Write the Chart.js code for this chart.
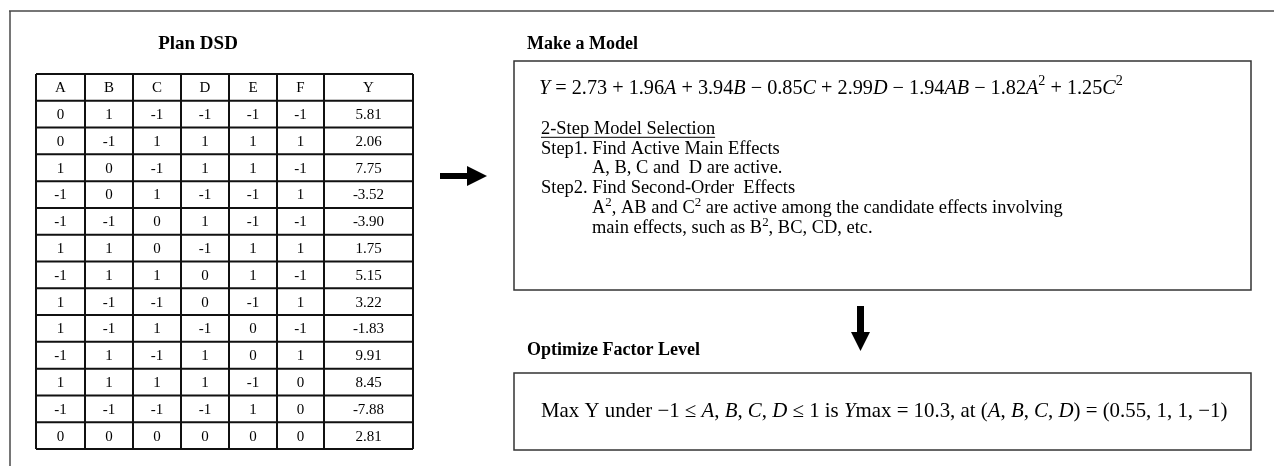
<!DOCTYPE html>
<html><head><meta charset="utf-8">
<script src="https://cdn.jsdelivr.net/npm/chart.js@4.4.1/dist/chart.umd.min.js"></script>
<style>html,body{margin:0;padding:0;background:#fff}#wrap{position:relative;width:1274px;height:466px}</style>
</head><body><div id="wrap"><canvas id="c"></canvas></div>
<script>
// ---- data ----
const headers = ['A','B','C','D','E','F','Y'];
const colA = [0,0,1,-1,-1,1,-1,1,1,-1,1,-1,0];
const colB = [1,-1,0,0,-1,1,1,-1,-1,1,1,-1,0];
const colC = [-1,1,-1,1,0,0,1,-1,1,-1,1,-1,0];
const colD = [-1,1,1,-1,1,-1,0,0,-1,1,1,-1,0];
const colE = [-1,1,1,-1,-1,1,1,-1,0,0,-1,1,0];
const colF = [-1,1,-1,1,-1,1,-1,1,-1,1,0,0,0];
const colY = [5.81,2.06,7.75,-3.52,-3.90,1.75,5.15,3.22,-1.83,9.91,8.45,-7.88,2.81];
const intercept = 2.73;
const modelTerms = ['A','B','C','D','AB','A^2','C^2'];
const modelCoefs = [1.96,3.94,-0.85,2.99,-1.94,-1.82,1.25];
const activeMain = ['A','B','C','D'];
const activeSecond = ['A^2','AB','C^2'];
const candidateEx = ['B^2','BC','CD'];
const optFactors = ['A','B','C','D'];
const optLevels = [0.55,1,1,-1];
const yMax = 10.3;

// ---- layout ----
const SERIF = '"Liberation Serif","Times New Roman",serif';
const tbl = {edges:[36,85,133,181,229,277,324,413], top:74, bottom:449};
const box1 = {l:514,t:61,r:1251,b:290};
const box2 = {l:514,t:373,r:1251,b:450};

function richMeasure(ctx, segs, size){
  let w=0;
  for(const s of segs){
    const fs = s.sup? size*0.7 : size;
    ctx.font = (s.it?'italic ':'')+(s.b?'bold ':'')+fs+'px '+SERIF;
    w += ctx.measureText(s.t).width;
  }
  return w;
}
function richDraw(ctx, segs, x, y, size, raise){
  let cx=x;
  ctx.textAlign='left'; ctx.textBaseline='middle';
  for(const s of segs){
    const fs = s.sup? size*0.7 : size;
    ctx.font = (s.it?'italic ':'')+(s.b?'bold ':'')+fs+'px '+SERIF;
    ctx.fillText(s.t, cx, y - (s.sup? size*(raise||0.36):0));
    cx += ctx.measureText(s.t).width;
  }
  return cx-x;
}
function fitSize(ctx, segs, target){
  const w = richMeasure(ctx, segs, 100);
  return 100*target/w;
}
function termSegs(term, italic){
  const [base, p] = term.split('^');
  const out=[{t:base,it:italic}];
  if(p) out.push({t:p,sup:true});
  return out;
}
function textTermSegs(list, sep){
  const out=[];
  list.forEach((t,i)=>{ if(i) out.push({t:sep[i-1]||', '}); out.push(...termSegs(t,false)); });
  return out;
}
const minus = v => v<0 ? '−'+Math.abs(v) : String(v);

const diagram = {
  id:'diagram',
  afterDraw(chart){
    const ctx = chart.ctx;
    const X = v=>chart.scales.x.getPixelForValue(v);
    const Y = v=>chart.scales.y.getPixelForValue(v);
    ctx.save();
    // outer frame (top & left)
    ctx.strokeStyle='#4a4a4a'; ctx.lineWidth=1.5;
    ctx.beginPath(); ctx.moveTo(X(9),Y(11)); ctx.lineTo(X(1274),Y(11));
    ctx.moveTo(X(10),Y(11)); ctx.lineTo(X(10),Y(466)); ctx.stroke();

    ctx.fillStyle='#000';
    // titles
    ctx.font='bold 19px '+SERIF; ctx.textAlign='center'; ctx.textBaseline='middle';
    ctx.fillText('Plan DSD', X(198), Y(44));
    ctx.font='bold 18px '+SERIF; ctx.textAlign='left';
    ctx.fillText('Make a Model', X(527), Y(44));
    ctx.fillText('Optimize Factor Level', X(527), Y(350));

    // table
    const cols=[colA,colB,colC,colD,colE,colF,colY.map(v=>v.toFixed(2))];
    const nRows = colA.length+1;
    const rh = (tbl.bottom-tbl.top)/nRows;
    ctx.strokeStyle='#111'; ctx.lineWidth=2;
    ctx.beginPath();
    for(let i=0;i<=nRows;i++){ const yy=Y(tbl.top+i*rh); ctx.moveTo(X(tbl.edges[0]),yy); ctx.lineTo(X(tbl.edges[7]),yy); }
    for(const e of tbl.edges){ ctx.moveTo(X(e),Y(tbl.top)); ctx.lineTo(X(e),Y(tbl.bottom)); }
    ctx.stroke();
    ctx.font='15px '+SERIF; ctx.textAlign='center'; ctx.textBaseline='middle';
    headers.forEach((h,j)=>{ ctx.fillText(h, X((tbl.edges[j]+tbl.edges[j+1])/2), Y(tbl.top+rh/2+1)); });
    cols.forEach((col,j)=>{
      col.forEach((v,i)=>{ ctx.fillText(String(v), X((tbl.edges[j]+tbl.edges[j+1])/2), Y(tbl.top+(i+1.5)*rh+1)); });
    });

    // arrows
    ctx.fillStyle='#000';
    ctx.fillRect(X(440),Y(173),X(468)-X(440),Y(179)-Y(173));
    ctx.beginPath(); ctx.moveTo(X(467),Y(166)); ctx.lineTo(X(487),Y(176)); ctx.lineTo(X(467),Y(186)); ctx.closePath(); ctx.fill();
    ctx.fillRect(X(857),Y(306),X(864)-X(857),Y(333)-Y(306));
    ctx.beginPath(); ctx.moveTo(X(851),Y(332)); ctx.lineTo(X(870),Y(332)); ctx.lineTo(X(860.5),Y(351)); ctx.closePath(); ctx.fill();

    // boxes
    ctx.strokeStyle='#333'; ctx.lineWidth=1.5;
    ctx.strokeRect(X(box1.l),Y(box1.t),X(box1.r)-X(box1.l),Y(box1.b)-Y(box1.t));
    ctx.strokeRect(X(box2.l),Y(box2.t),X(box2.r)-X(box2.l),Y(box2.b)-Y(box2.t));

    // equation
    const eq=[{t:'Y',it:true},{t:' = '},{t:intercept.toFixed(2)}];
    modelTerms.forEach((t,i)=>{
      const c=modelCoefs[i];
      eq.push({t:c<0?' − ':' + '},{t:Math.abs(c).toFixed(2)}, ...termSegs(t,true));
    });
    const eqSize = fitSize(ctx, eq, 584);
    richDraw(ctx, eq, X(539), Y(89), eqSize, 0.36);

    // step text
    const l4 = textTermSegs(activeSecond, [', ',' and ']).concat([{t:' are active among the candidate effects involving'}]);
    const bs = fitSize(ctx, l4, 471);
    const l0 = [{t:'2-Step Model Selection'}];
    const w0 = richDraw(ctx, l0, X(541), Y(129), bs);
    ctx.strokeStyle='#000'; ctx.lineWidth=1;
    ctx.beginPath(); ctx.moveTo(X(541),Y(129)+bs*0.45); ctx.lineTo(X(541)+w0,Y(129)+bs*0.45); ctx.stroke();
    richDraw(ctx, [{t:'Step1. Find Active Main Effects'}], X(541), Y(149), bs);
    const l2 = textTermSegs(activeMain, [', ',', ',' and  ']).concat([{t:' are active.'}]);
    richDraw(ctx, l2, X(592), Y(168), bs);
    richDraw(ctx, [{t:'Step2. Find Second-Order  Effects'}], X(541), Y(188), bs);
    richDraw(ctx, l4, X(592), Y(208), bs, 0.3);
    const l5 = [{t:'main effects, such as '}].concat(textTermSegs(candidateEx,[', ',', '])).concat([{t:', etc.'}]);
    richDraw(ctx, l5, X(592), Y(228), bs, 0.3);

    // optimization
    const op=[{t:'Max Y under '},{t:'−1 ≤ '}];
    optFactors.forEach((f,i)=>{ if(i) op.push({t:', '}); op.push({t:f,it:true}); });
    op.push({t:' ≤ 1'},{t:' is '},{t:'Y',it:true},{t:'max = '+yMax},{t:', at ('});
    optFactors.forEach((f,i)=>{ if(i) op.push({t:', '}); op.push({t:f,it:true}); });
    op.push({t:') = ('+optLevels.map(minus).join(', ')+')'});
    const os = fitSize(ctx, op, 687);
    richDraw(ctx, op, X(541), Y(412), os);
    ctx.restore();
  }
};

new Chart(document.getElementById('c'), {
  type:'scatter',
  data:{datasets:[{data:[],pointRadius:0}]},
  options:{
    responsive:true, maintainAspectRatio:false, animation:false,
    layout:{padding:0},
    plugins:{legend:{display:false},tooltip:{enabled:false},title:{display:false}},
    scales:{
      x:{type:'linear',min:0,max:1274,display:false},
      y:{type:'linear',min:0,max:466,reverse:true,display:false}
    }
  },
  plugins:[diagram]
});
</script></body></html>
